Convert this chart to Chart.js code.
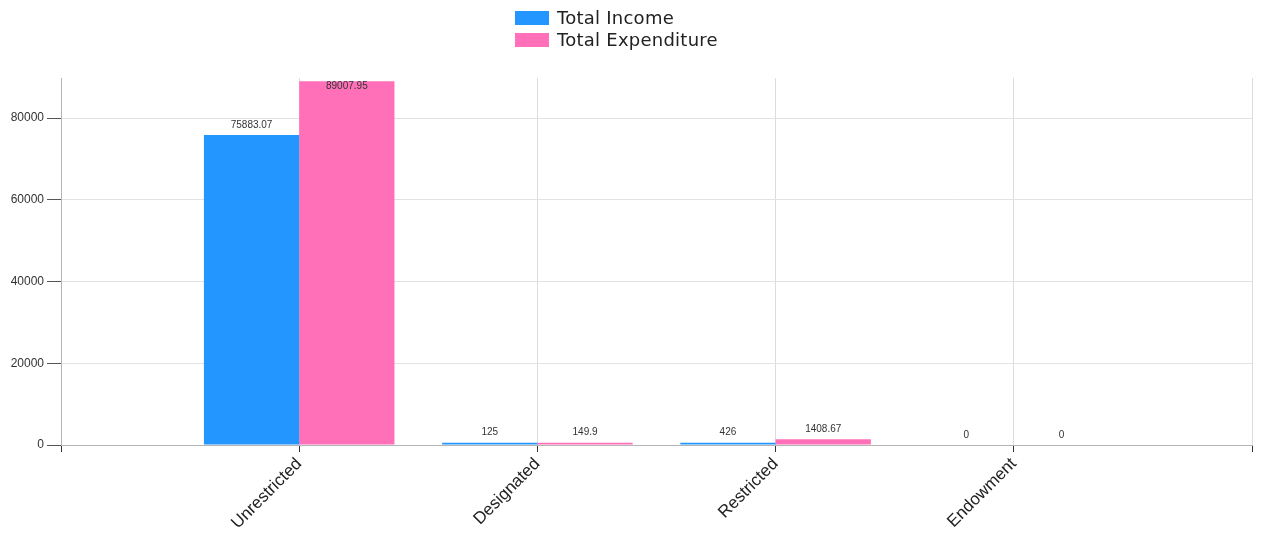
<!DOCTYPE html>
<html lang="en">
<head>
    <meta charset="UTF-8">
    <title>Income vs Expenditure</title>
    <style>
        html, body { margin: 0; padding: 0; background: #fff; }
        #wrap { width: 1267px; height: 541px; }
    </style>
</head>
<body>
    <div id="wrap"><canvas id="barChart" width="1267" height="541"></canvas></div>

    <script src="https://cdn.jsdelivr.net/npm/chart.js"></script>

    <script>
        // first and last slots are empty padding categories
        const categories = ['', 'Unrestricted', 'Designated', 'Restricted', 'Endowment', ''];
        const totalIncome = [null, 75883.07, 125, 426, 0, null];
        const totalExpenditure = [null, 89007.95, 149.9, 1408.67, 0, null];
        const yTicks = [0, 20000, 40000, 60000, 80000];

        const seriesNames = ['Total Income', 'Total Expenditure'];
        const seriesColors = ['#2396ff', '#ff70b8'];

        // keep tiny non-zero bars visible (at least ~2px)
        const thinBars = {
            id: 'thinBars',
            afterDatasetsUpdate(chart) {
                chart.data.datasets.forEach((ds, i) => {
                    chart.getDatasetMeta(i).data.forEach((bar, j) => {
                        const v = ds.data[j];
                        if (v > 0 && bar.base - bar.y < 1.8) bar.y = bar.base - 1.8;
                    });
                });
            }
        };

        // value labels above each bar
        const valueLabels = {
            id: 'valueLabels',
            afterDatasetsDraw(chart) {
                const ctx = chart.ctx;
                const area = chart.chartArea;
                ctx.save();
                ctx.font = '10px "Liberation Sans", Arial, sans-serif';
                ctx.fillStyle = '#333';
                ctx.textAlign = 'center';
                ctx.textBaseline = 'middle';
                chart.data.datasets.forEach((ds, i) => {
                    chart.getDatasetMeta(i).data.forEach((bar, j) => {
                        const v = ds.data[j];
                        if (v === null || v === undefined) return;
                        let y = bar.y - 10;
                        if (y < area.top + 8) y = area.top + 8;
                        ctx.fillText(String(v), bar.x, y);
                    });
                });
                ctx.restore();
            }
        };

        // stacked legend at the top
        const stackedLegend = {
            id: 'stackedLegend',
            afterDraw(chart) {
                const ctx = chart.ctx;
                ctx.save();
                ctx.font = '18px "DejaVu Sans", sans-serif';
                ctx.letterSpacing = '0.25px';
                ctx.textBaseline = 'middle';
                ctx.textAlign = 'left';
                seriesNames.forEach((name, i) => {
                    const y = 11 + i * 22;
                    ctx.fillStyle = seriesColors[i];
                    ctx.fillRect(515, y, 34, 14);
                    ctx.fillStyle = '#222';
                    ctx.fillText(name, 557, y + 8);
                });
                ctx.restore();
            }
        };

        var ctx = document.getElementById('barChart').getContext('2d');

        var barChart = new Chart(ctx, {
            type: 'bar',
            data: {
                labels: categories,
                datasets: [{
                    label: seriesNames[0],
                    data: totalIncome,
                    backgroundColor: seriesColors[0],
                    barPercentage: 1.0,
                    categoryPercentage: 0.8
                },
                {
                    label: seriesNames[1],
                    data: totalExpenditure,
                    backgroundColor: seriesColors[1],
                    barPercentage: 1.0,
                    categoryPercentage: 0.8
                }]
            },
            options: {
                responsive: false,
                animation: false,
                layout: {
                    padding: { top: 78, right: 15, left: 0, bottom: 0 }
                },
                plugins: {
                    legend: { display: false },
                    tooltip: { enabled: false }
                },
                scales: {
                    x: {
                        offset: false,
                        grid: {
                            offset: false,
                            color: '#dcdcdc',
                            tickColor: '#333',
                            tickLength: 7
                        },
                        border: { color: '#b5b5b5' },
                        ticks: {
                            autoSkip: false,
                            minRotation: 45,
                            maxRotation: 45,
                            padding: 2,
                            color: '#222',
                            font: { family: '"Liberation Sans", Arial, sans-serif', size: 17 }
                        },
                        afterFit(scale) {
                            scale.height = 96;
                            scale.paddingLeft = 0;
                            scale.paddingRight = 0;
                        }
                    },
                    y: {
                        min: 0,
                        max: 89800,
                        grid: {
                            color: '#e2e2e2',
                            tickColor: '#555',
                            tickLength: 14
                        },
                        border: { color: '#b5b5b5' },
                        afterBuildTicks(scale) {
                            scale.ticks = yTicks.map(v => ({ value: v }));
                        },
                        ticks: {
                            padding: 3,
                            color: '#333',
                            font: { family: '"Liberation Sans", Arial, sans-serif', size: 12 },
                            callback: function (value) { return String(value); }
                        },
                        afterFit(scale) { scale.width = 61; }
                    }
                }
            },
            plugins: [thinBars, valueLabels, stackedLegend]
        });
    </script>
</body>
</html>
